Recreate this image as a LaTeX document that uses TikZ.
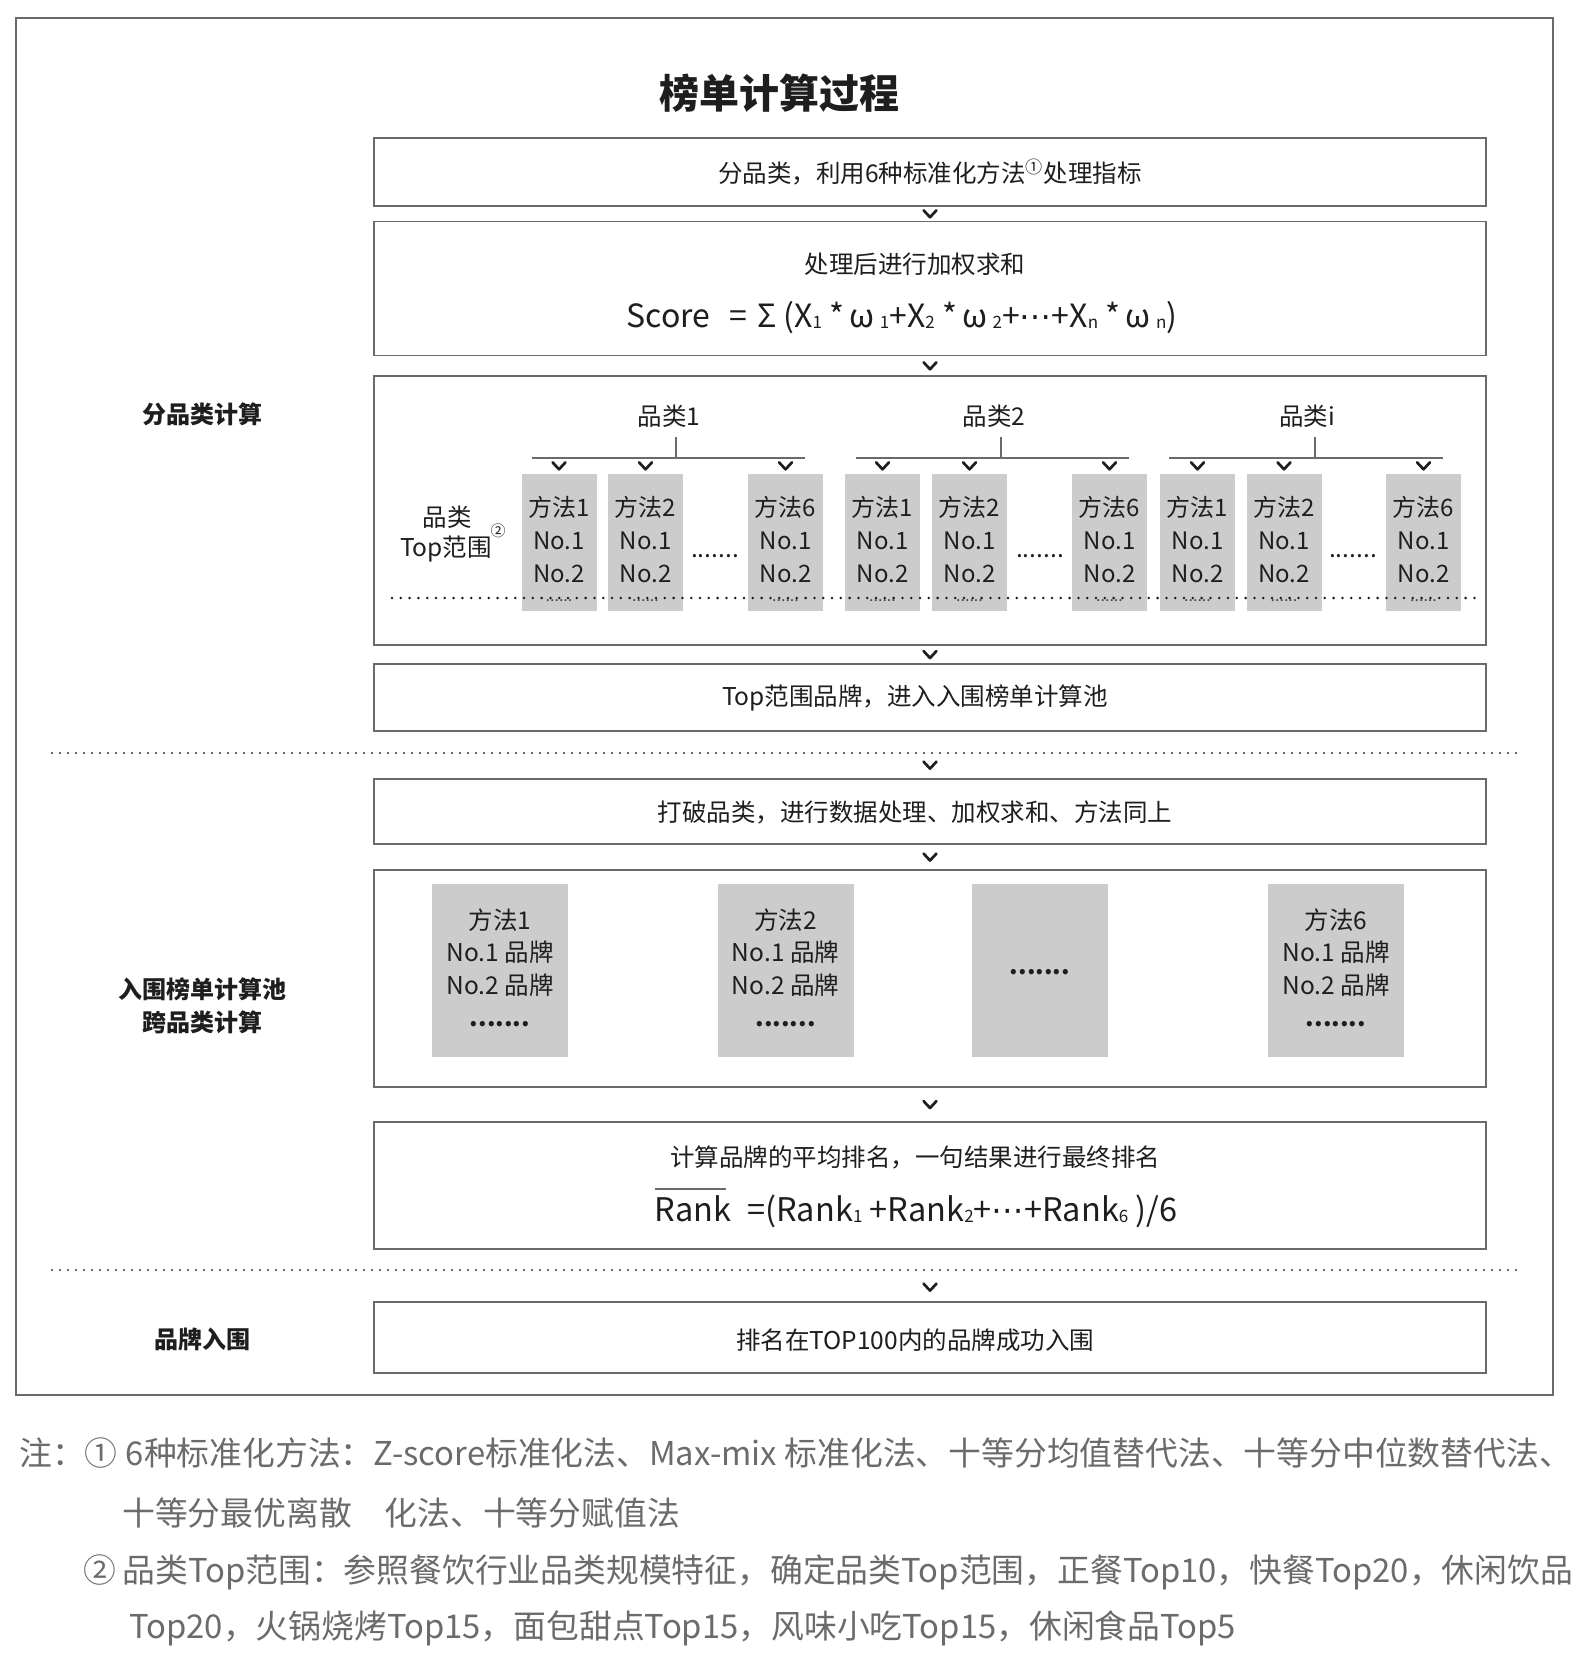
\documentclass[tikz,border=0pt]{standalone}
\usepackage{fontspec}
\setmainfont{Noto Sans CJK SC}
\newfontfamily\dejavu{DejaVu Sans}
\usetikzlibrary{calc}
\definecolor{bordergray}{HTML}{6A6A6A}
\definecolor{boxgray}{HTML}{CCCCCC}
\definecolor{txt}{HTML}{1E1E1E}
\definecolor{notegray}{HTML}{6B6B6B}
\newcommand\sbs[1]{\raisebox{-1pt}{\fontsize{17}{17}\selectfont #1}}
\begin{document}
\begin{tikzpicture}[x=1pt,y=-1pt,
  every node/.style={text=txt, font=\fontsize{24.5}{28}\selectfont, inner sep=0pt},
  mainbox/.style={draw=bordergray, line width=1.8pt, minimum width=1112pt, fill=white},
  graybox/.style={fill=boxgray, minimum width=75pt, minimum height=137pt},
  graytext/.style={align=center, font=\fontsize{24}{33}\selectfont},
  graybig/.style={fill=boxgray, minimum width=136pt, minimum height=173pt},
  chevron/.pic={\draw[line width=2.7pt, txt, line cap=round, line join=round] (-6.5,-3.5) -- (0,3.5) -- (6.5,-3.5);},
  bracket/.style={draw=bordergray, line width=1.5pt},
  sep/.style={draw=bordergray, line width=1.8pt, dash pattern=on 2pt off 6pt},
  lab/.style={font=\fontsize{24}{33}\selectfont\bfseries, align=center},
  smalldots/.style={font=\fontsize{16}{16}\selectfont, text=txt!80},
  note/.style={text=notegray, font=\fontsize{32.8}{33}\selectfont, anchor=west}
]
\useasboundingbox (0,0) rectangle (1574,1678);
\fill[white] (0,0) rectangle (1574,1678);
% outer frame
\draw[draw=bordergray, line width=1.8pt] (16,18) rectangle (1553,1395);
% title
\node[font=\fontsize{40}{40}\selectfont\bfseries] (title) at (779,93) {榜单计算过程};

% left labels
\node[lab] (L1) at (202,414) {分品类计算};
\node[lab] (L2) at (202,1005.5) {入围榜单计算池\\跨品类计算};
\node[lab] (L3) at (202,1339) {品牌入围};

% box 1
\node[mainbox, minimum height=68pt] (b1) at (930,172) {};
\node (b1t) at (930,172) {分品类，利用6种标准化方法\textsuperscript{①}处理指标};
% box 2
\node[mainbox, minimum height=134pt] (b2) at (930,288.5) {};
\node (b2t) at (915,264) {处理后进行加权求和};
\node[font=\fontsize{32}{32}\selectfont] (b2f) at (902,318) {Score\hspace{0.6em}=\hspace{0.3em}Σ (X\sbs{1} *\,ω\,\sbs{1}+X\sbs{2} *\,ω\,\sbs{2}+{\dejavu ⋯}+X\sbs{n} *\,ω\,\sbs{n})};
% box 3
\node[mainbox, minimum height=269pt] (b3) at (930,510.5) {};
\node (c1) at (669,416) {品类1};
\node (c2) at (994,416) {品类2};
\node (ci) at (1307,416) {品类i};
\draw[bracket] (532,458) -- (805,458);
\draw[bracket] (c1.south -| 676,0) ++(0,10) -- (676,458);
\draw[bracket] (856,458) -- (1129,458);
\draw[bracket] (c2.south -| 1001,0) ++(0,10) -- (1001,458);
\draw[bracket] (1169,458) -- (1443,458);
\draw[bracket] (ci.south -| 1315,0) ++(0,10) -- (1315,458);

\foreach \n/\x/\t in {g11/559/1, g12/645.5/2, g16/785.5/6, g21/882.5/1, g22/969.5/2, g26/1109.5/6, gi1/1197.5/1, gi2/1284/2, gi6/1423.5/6}{
  \node[graybox] (\n) at (\x,542.5) {};
  \node[graytext] (\n-t) at (\x,539.5) {方法\t\\No.1\\No.2};
  \pic at ($(\n.north)+(0,-8)$) {chevron};
  \node[smalldots] (\n-d) at (\x,601) {......};
}
\node (d1) at (715,556) {.......};
\node (d2) at (1040,556) {.......};
\node (d3) at (1353,556) {.......};
\node (pl) at (447,517) {品类};
\node (pt) at (446,549) {Top范围};
\node[font=\fontsize{15}{15}\selectfont] (pc) at (498,531) {②};
\draw[line width=2.8pt, dash pattern=on 0pt off 8.8pt, line cap=round, txt] (392,598) -- (1477,598);

% box 4
\node[mainbox, minimum height=67pt] (b4) at (930,697.5) {};
\node (b4t) at (915,698) {Top范围品牌，进入入围榜单计算池};
% separator 1
\draw[sep] (51,753) -- (1517,753);
% box 5
\node[mainbox, minimum height=65pt] (b5) at (930,811.5) {};
\node (b5t) at (915,812) {打破品类，进行数据处理、加权求和、方法同上};
% box 6
\node[mainbox, minimum height=217pt] (b6) at (930,978.5) {};
\node[graybig] (m1) at (500,970.5) {};
\node[graybig] (m2) at (785.5,970.5) {};
\node[graybig] (m3) at (1040,970.5) {};
\node[graybig] (m6) at (1336,970.5) {};
\foreach \n/\t in {m1/1, m2/2, m6/6}{
  \node (\n-a) at ($(\n.center)+(0,-50.5)$) {方法\t};
  \node (\n-b) at ($(\n.center)+(0,-18.5)$) {No.1 品牌};
  \node (\n-c) at ($(\n.center)+(0,14.5)$) {No.2 品牌};
  \node (\n-d) at ($(\n.center)+(0,54)$) {\textbf{.......}};
}
\node (m3-d) at (1040,972) {\textbf{.......}};
% box 7
\node[mainbox, minimum height=127pt] (b7) at (930,1185.5) {};
\node (b7t) at (915,1157) {计算品牌的平均排名，一句结果进行最终排名};
\node[font=\fontsize{32.5}{32}\selectfont] (b7f) at (916,1208) {\rlap{\color{bordergray}\raisebox{0.98em}{\rule{2.2em}{1.3pt}}}Rank\hspace{0.5em}=(Rank\sbs{1} +Rank\sbs{2}+{\dejavu ⋯}+Rank\sbs{6} )/6};
% separator 2
\draw[sep] (51,1270) -- (1517,1270);
% box 8
\node[mainbox, minimum height=71pt] (b8) at (930,1337.5) {};
\node (b8t) at (915,1340) {排名在TOP100内的品牌成功入围};

% chevrons between boxes
\pic at ($(b1.south)!0.5!(b2.north)$) {chevron};
\pic at ($(b2.south)!0.5!(b3.north)$) {chevron};
\pic at ($(b3.south)!0.5!(b4.north)$) {chevron};
\pic at ($(b5.north)+(0,-13)$) {chevron};
\pic at ($(b5.south)!0.5!(b6.north)$) {chevron};
\pic at ($(b6.south)!0.5!(b7.north)$) {chevron};
\pic at ($(b8.north)+(0,-14)$) {chevron};

% notes
\node[note] (n1) at (19,1453) {注：①\hspace{0.25em}6种标准化方法：Z-score标准化法、Max-mix 标准化法、十等分均值替代法、十等分中位数替代法、};
\node[note] (n2) at (122,1513) {十等分最优离散\hspace{1em}化法、十等分赋值法};
\node[note] (n3) at (83,1572) {②\hspace{0.2em}品类Top范围：参照餐饮行业品类规模特征，确定品类Top范围，正餐Top10，快餐Top20，休闲饮品};
\node[note] (n4) at (129,1628) {Top20，火锅烧烤Top15，面包甜点Top15，风味小吃Top15，休闲食品Top5};
\end{tikzpicture}
\end{document}
